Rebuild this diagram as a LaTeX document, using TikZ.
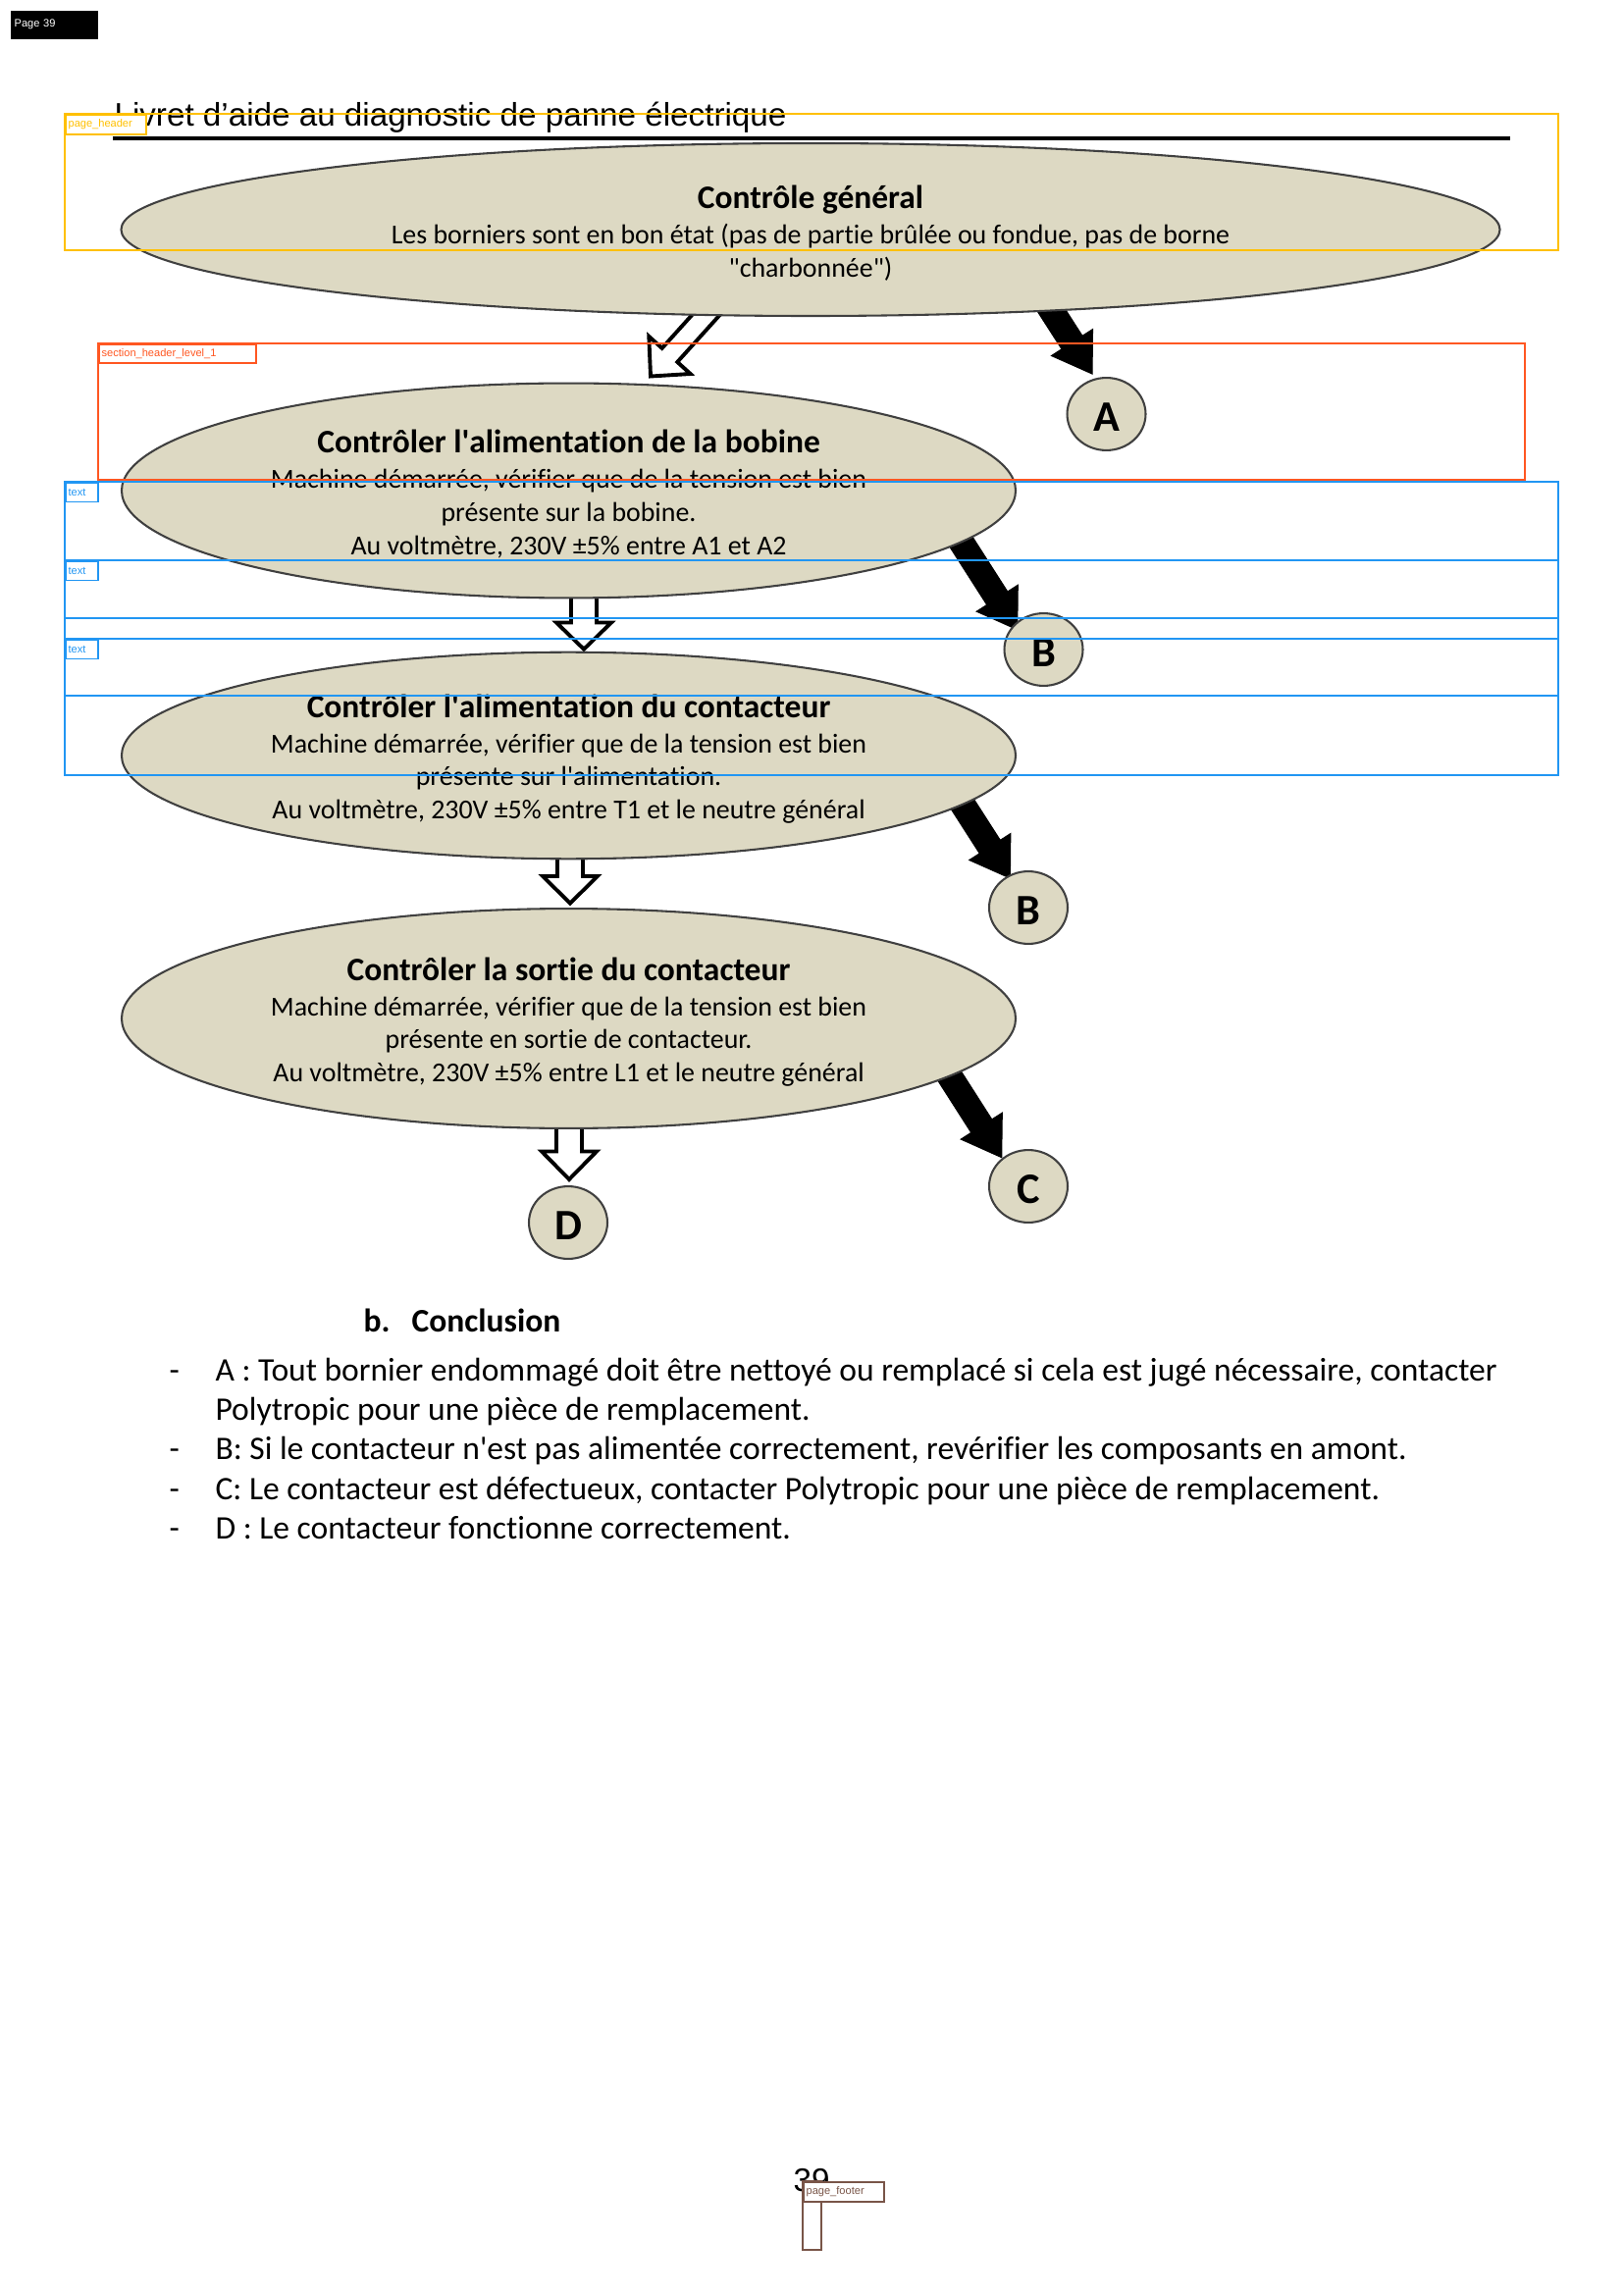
\documentclass[tikz,border=0pt]{standalone}
\usepackage{fontspec}
\setmainfont{Carlito}[Ligatures=NoCommon]
\newfontfamily\arialfont{Liberation Sans}
\usetikzlibrary{calc,shapes,backgrounds}
\definecolor{khaki}{HTML}{DDD9C3}
\definecolor{rim}{HTML}{404040}
\definecolor{hdrbox}{HTML}{FFC000}
\definecolor{secbox}{HTML}{FF5722}
\definecolor{txtbox}{HTML}{2196F3}
\definecolor{footbox}{HTML}{795548}
\tikzset{
  testbox/.style={ellipse,draw=rim,line width=0.75pt,fill=khaki,inner sep=0pt,align=center,font=\fontsize{10.08}{12.2}\selectfont},
  verdict/.style={ellipse,draw=rim,line width=0.75pt,fill=khaki,inner sep=0pt,minimum width=28.9pt,minimum height=26.7pt,text height=13pt,font=\fontsize{16}{19}\selectfont\bfseries},
  openarrow/.style={draw=black,fill=white,line width=1.4pt,line join=miter},
  fullarrow/.style={fill=black},
  item/.style={anchor=base west,inner sep=0pt,font=\fontsize{12.12}{14.6}\selectfont},
  detbox/.style={draw=#1,line width=0.6pt},
  dettag/.style={draw=#1,line width=0.6pt,fill=white,text=#1,anchor=north west,inner sep=1pt,font=\arialfont\fontsize{4}{4}\selectfont},
}
% title line of a check, with a strut on top
\newcommand{\checkhead}[1]{\rule{0pt}{11pt}{\fontsize{12.1}{14}\selectfont\bfseries #1}}
% block arrow: [style]{from}{tip}{half shaft}{half head}{head length}
\newcommand{\blockarrow}[6][]{%
  \path (#2) coordinate (ba-s) (#3) coordinate (ba-t);
  \path ($(ba-t)!#6!(ba-s)$) coordinate (ba-b);
  \filldraw[#1] ($(ba-s)!#4!90:(ba-t)$) -- ($(ba-b)!#4!90:(ba-t)$) -- ($(ba-b)!#5!90:(ba-t)$)
    -- (ba-t) -- ($(ba-b)!#5!-90:(ba-t)$) -- ($(ba-b)!#4!-90:(ba-t)$) -- ($(ba-s)!#4!-90:(ba-t)$) -- cycle;
}

\begin{document}
\begin{tikzpicture}[x=0.36135pt,y=-0.36135pt]
\useasboundingbox (0,0) rectangle (1654,2339);

% page head
\node[fill=black,text=white,anchor=north west,inner sep=1.5pt,minimum height=10.5pt,text width=29.5pt,font=\arialfont\fontsize{4}{4}\selectfont] (pagetag) at (10,10) {Page 39};
\node[anchor=base west,inner sep=0pt,font=\arialfont\fontsize{12}{14}\selectfont] (doctitle) at (116,129) {Livret d’aide au diagnostic de panne électrique};
\draw[line width=1.2pt] (115,141) -- (1539,141);

% the checks
\node[testbox,minimum width=507.7pt,minimum height=63.6pt] (gen) at (826,234)
  {\checkhead{Contrôle général}\\[0.8pt]
   Les borniers sont en bon état (pas de partie brûlée ou fondue, pas de borne\\ \textquotedbl charbonnée\textquotedbl)};
\node[testbox,minimum width=329.2pt,minimum height=79.1pt] (bob) at (579.5,500)
  {\checkhead{Contrôler l\textquotesingle alimentation de la bobine}\\[0.8pt]
   Machine démarrée, vérifier que de la tension est bien\\ présente sur la bobine.\\
   Au voltmètre, 230V ±5\% entre A1 et A2};
\node[testbox,minimum width=329.2pt,minimum height=76.1pt] (ali) at (579.5,770)
  {\checkhead{Contrôler l\textquotesingle alimentation du contacteur}\\[0.8pt]
   Machine démarrée, vérifier que de la tension est bien\\ présente sur l\textquotesingle alimentation.\\
   Au voltmètre, 230V ±5\% entre T1 et le neutre général};
\node[testbox,minimum width=329.2pt,minimum height=80.9pt] (sor) at (579.5,1038)
  {\checkhead{Contrôler la sortie du contacteur}\\[0.8pt]
   Machine démarrée, vérifier que de la tension est bien\\ présente en sortie de contacteur.\\
   Au voltmètre, 230V ±5\% entre L1 et le neutre général};

% outcomes
\node[verdict] (A) at (1127.5,422) {A};
\node[verdict] (B1) at (1063.5,662) {B};
\node[verdict] (B2) at (1048,925) {B};
\node[verdict] (C) at (1048,1209) {C};
\node[verdict] (D) at (579,1246) {D};

\begin{pgfonlayer}{background}
\blockarrow[openarrow]{$(gen.south)+(-90.6,-19.8)$}{$(bob.north)+(83.5,-6)$}{3.8pt}{10.3pt}{10.5pt}
\blockarrow[openarrow]{$(bob.south)+(15.5,-24)$}{$(ali.north)+(15.5,-2)$}{4.7pt}{10.1pt}{9.8pt}
\blockarrow[openarrow]{$(ali.south)+(1.5,-20)$}{$(sor.north)+(1.5,-4.4)$}{4.7pt}{10.1pt}{10pt}
\blockarrow[openarrow]{$(sor.south)+(0.5,-20)$}{$(D.north)+(1,-6)$}{4.7pt}{10.1pt}{10.3pt}
\blockarrow[fullarrow]{$(gen)+(217,38)$}{$(A)+(-14.5,-41)$}{4.5pt}{9pt}{13.7pt}
\blockarrow[fullarrow]{$(bob)+(387,32)$}{$(B1)+(-26.8,-20.3)$}{4.5pt}{9pt}{13.7pt}
\blockarrow[fullarrow]{$(ali)+(379.5,15.5)$}{$(B2)+(-18.7,-30)$}{4.5pt}{9pt}{13.7pt}
\blockarrow[fullarrow]{$(sor)+(371,31.8)$}{$(C)+(-27.3,-29.4)$}{4.5pt}{9pt}{13.7pt}
\end{pgfonlayer}

% conclusion
\node[item,font=\fontsize{12.12}{14.6}\selectfont\bfseries] (bnum) at (370,1357) {b.};
\node[item,font=\fontsize{12.12}{14.6}\selectfont\bfseries] (concl) at (419,1357) {Conclusion};
\node[item] (itA) at (219,1407) {A : Tout bornier endommagé doit être nettoyé ou remplacé si cela est jugé nécessaire, contacter};
\node[item] (itA2) at (219,1447) {Polytropic pour une pièce de remplacement.};
\node[item] (itB) at (219,1487) {B: Si le contacteur n\textquotesingle est pas alimentée correctement, revérifier les composants en amont.};
\node[item] (itC) at (219,1528) {C: Le contacteur est défectueux, contacter Polytropic pour une pièce de remplacement.};
\node[item] (itD) at (219,1568) {D : Le contacteur fonctionne correctement.};
\foreach \y/\n in {1407/a,1487/b,1528/c,1568/d}
  \node[item] (dash\n) at (172,\y) {-};

% page foot
\node[anchor=base west,inner sep=0pt,font=\arialfont\fontsize{12}{14}\selectfont] (pgnum) at (808,2233) {39};

% detection boxes on top
\draw[detbox=hdrbox] (66,116) rectangle (1588,255);
\node[dettag=hdrbox,text width=27.6pt,minimum height=7.2pt] (hdrtag) at (66,116) {page\_header};
\draw[detbox=secbox] (100,350) rectangle (1554,489);
\node[dettag=secbox,text width=55.8pt,minimum height=6.9pt] (sectag) at (100,350) {section\_header\_level\_1};
\draw[detbox=txtbox] (66,491) rectangle (1588,709);
\draw[detbox=txtbox] (66,571) rectangle (1588,630);
\draw[detbox=txtbox] (66,651) rectangle (1588,790);
\foreach \y/\n in {491/a,571/b,651/c}
  \node[dettag=txtbox,text width=10pt,minimum height=7.1pt] (txttag\n) at (66,\y) {text};
\draw[detbox=footbox] (818,2223) rectangle (837,2293);
\node[dettag=footbox,text width=27.6pt,minimum height=7.2pt] (foottag) at (818,2223) {page\_footer};
\end{tikzpicture}
\end{document}
